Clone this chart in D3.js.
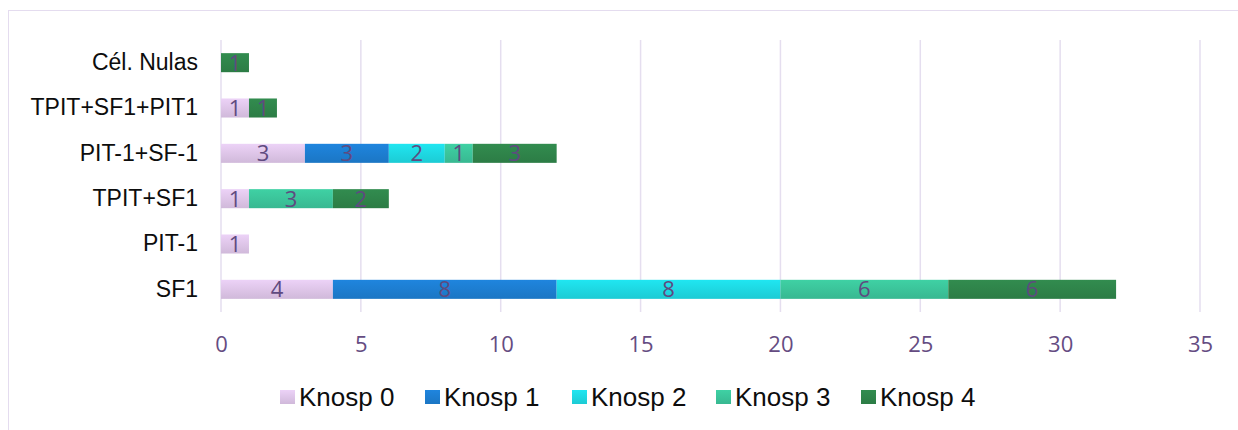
<!DOCTYPE html>
<html>
<head>
<meta charset="utf-8">
<script src="https://cdn.jsdelivr.net/npm/d3@7"></script>
<style>
  body { margin: 0; background: #fff; }
  svg { display: block; }
</style>
</head>
<body>
<div id="chart"></div>
<script>
// categories, top to bottom
const categories = ["Cél. Nulas", "TPIT+SF1+PIT1", "PIT-1+SF-1", "TPIT+SF1", "PIT-1", "SF1"];
const seriesNames = ["Knosp 0", "Knosp 1", "Knosp 2", "Knosp 3", "Knosp 4"];
// one array per series, same order as categories
const knosp0 = [0, 1, 3, 1, 1, 4];
const knosp1 = [0, 0, 3, 0, 0, 8];
const knosp2 = [0, 0, 2, 0, 0, 8];
const knosp3 = [0, 0, 1, 3, 0, 6];
const knosp4 = [1, 1, 3, 2, 0, 6];
const xTicks = [0, 5, 10, 15, 20, 25, 30, 35];
const colors = ["#d8c0e2", "#1c7acb", "#1dd2dc", "#3abf96", "#2e8048"];

const width = 1238, height = 430;
const margin = { top: 40, left: 221 };

const svg = d3.select("#chart").append("svg")
  .attr("width", width)
  .attr("height", height);

// outer chart border (only top/left visible in the shot)
svg.append("rect")
  .attr("x", 8.5).attr("y", 10.5)
  .attr("width", 1300).attr("height", 500)
  .attr("fill", "none")
  .attr("stroke", "#e4dcef")
  .attr("stroke-width", 1);

const table = categories.map((c, i) => ({
  cat: c,
  "Knosp 0": knosp0[i],
  "Knosp 1": knosp1[i],
  "Knosp 2": knosp2[i],
  "Knosp 3": knosp3[i],
  "Knosp 4": knosp4[i],
}));

const stacked = d3.stack().keys(seriesNames)(table);

const x = d3.scaleLinear()
  .domain([0, 35])
  .range([margin.left, 1200]);

const y = d3.scaleBand()
  .domain(categories)
  .range([margin.top, 312])
  .paddingInner(0.58)
  .paddingOuter(0.29);

// gradients for bars
const defs = svg.append("defs");
colors.forEach((c, i) => {
  const g = defs.append("linearGradient")
    .attr("id", "grad" + i)
    .attr("x1", 0).attr("y1", 0).attr("x2", 0).attr("y2", 1);
  g.append("stop").attr("offset", "0%").attr("stop-color", d3.color(c).brighter(0.25));
  g.append("stop").attr("offset", "100%").attr("stop-color", d3.color(c).darker(0.1));
});

// gridlines
svg.append("g")
  .selectAll("line")
  .data(xTicks)
  .join("line")
  .attr("x1", d => x(d))
  .attr("x2", d => x(d))
  .attr("y1", margin.top)
  .attr("y2", 312)
  .attr("stroke", "#e5deef")
  .attr("stroke-width", 1.5);

// x axis labels
const xAxis = d3.axisBottom(x).tickValues(xTicks).tickSize(0).tickPadding(0);
const gx = svg.append("g")
  .attr("transform", `translate(0, 352)`)
  .call(xAxis);
gx.select(".domain").remove();
gx.selectAll("text")
  .attr("dy", 0)
  .attr("y", 0)
  .style("font-family", "'Open Sans', sans-serif")
  .style("font-size", "22px")
  .attr("fill", "#654c82");

// y axis labels
const yAxis = d3.axisLeft(y).tickSize(0).tickPadding(23);
const gy = svg.append("g")
  .attr("transform", `translate(${margin.left}, 0)`)
  .call(yAxis);
gy.select(".domain").remove();
gy.selectAll("text")
  .style("font-family", "'Liberation Sans', Arial, sans-serif")
  .style("font-size", "23px")
  .attr("fill", "#0d0d0d");

// bars
const layer = svg.append("g")
  .selectAll("g")
  .data(stacked)
  .join("g")
  .attr("fill", (d, i) => `url(#grad${i})`);

layer.selectAll("rect")
  .data(d => d.filter(p => p[1] - p[0] > 0))
  .join("rect")
  .attr("x", d => x(d[0]))
  .attr("y", d => y(d.data.cat))
  .attr("width", d => x(d[1]) - x(d[0]))
  .attr("height", y.bandwidth());

// value labels
layer.selectAll("text")
  .data(d => d.filter(p => p[1] - p[0] > 0))
  .join("text")
  .attr("x", d => (x(d[0]) + x(d[1])) / 2)
  .attr("y", d => y(d.data.cat) + y.bandwidth() / 2)
  .attr("dy", "0.36em")
  .attr("text-anchor", "middle")
  .attr("fill", "#5f4a80")
  .style("font-family", "'Open Sans', sans-serif")
  .style("font-size", "22px")
  .text(d => d[1] - d[0]);

// legend
const legendX = [280, 425, 572, 716, 861];
const legend = svg.append("g")
  .selectAll("g")
  .data(seriesNames)
  .join("g")
  .attr("transform", (d, i) => `translate(${legendX[i]}, 390)`);

legend.append("rect")
  .attr("width", 15)
  .attr("height", 14)
  .attr("fill", (d, i) => `url(#grad${i})`);

legend.append("text")
  .attr("x", 19)
  .attr("y", 7)
  .attr("dy", "0.36em")
  .style("font-family", "'Liberation Sans', Arial, sans-serif")
  .style("font-size", "26px")
  .attr("fill", "#0d0d0d")
  .text(d => d);
</script>
</body>
</html>
